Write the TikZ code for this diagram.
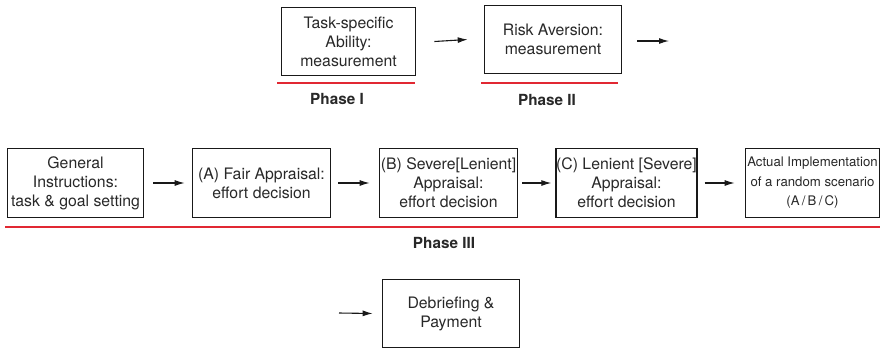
\documentclass[tikz,border=0pt]{standalone}
\usepackage{fontspec}
\setmainfont{TeX Gyre Heros}
\usetikzlibrary{arrows.meta}
\definecolor{txt}{RGB}{40,40,40}
\definecolor{redl}{RGB}{225,40,50}
\begin{document}
\begin{tikzpicture}[x=1pt,y=-1pt,
 box/.style={draw=black!90, line width=1.7pt, inner sep=0pt, align=center, text=txt, font=\fontsize{15.8}{19}\selectfont},
 arr/.style={-{Latex[length=10pt,width=6pt]}, line width=1.1pt, draw=black!90},
 phase/.style={font=\fontsize{15.3}{18}\selectfont\bfseries, text=txt, inner sep=0pt},
 redline/.style={draw=redl, line width=1.7pt}]
\useasboundingbox (0,0) rectangle (882,349);
% top row
\node[box, minimum width=134pt, minimum height=68pt] (b1) at (348.5,41.5) {Task-specific\\Ability:\\measurement};
\node[box, minimum width=137pt, minimum height=68pt] (b2) at (553,39.5) {Risk Aversion:\\measurement};
\coordinate (t2s) at (637,41);
\coordinate (t2e) at (669,41);
\draw[arr] ([xshift=18pt]b1.east) -- ([xshift=-16pt]b2.west);
\draw[arr] (t2s) -- (t2e);
\coordinate (r1a) at (277,83); \coordinate (r1b) at (415,83);
\coordinate (r2a) at (481,83); \coordinate (r2b) at (618,83);
\draw[redline] (r1a) -- (r1b);
\draw[redline] (r2a) -- (r2b);
\node[phase] (p1) at (337,99) {Phase I};
\node[phase] (p2) at (547,100) {Phase II};
% middle row
\node[box, minimum width=136pt, minimum height=69pt] (g) at (75.5,183) {General\\Instructions:\\task \& goal setting};
\node[box, minimum width=138pt, minimum height=69pt] (a) at (261.5,183) {(A) Fair Appraisal:\\effort decision};
\node[box, minimum width=138pt, minimum height=69pt] (b) at (448.5,183) {(B) Severe[Lenient]\\Appraisal:\\effort decision};
\node[box, minimum width=138pt, minimum height=69pt] (c) at (626.5,183) {(C) Lenient [Severe]\\Appraisal:\\effort decision};
\node[box, minimum width=134pt, minimum height=69pt, font=\fontsize{13.2}{19.5}\selectfont] (d) at (812.5,183) {Actual Implementation\\of a random scenario\\(A\,/\,B\,/\,C)};
\draw[arr] ([xshift=9pt]g.east) -- ([xshift=-7pt]a.west);
\draw[arr] ([xshift=7pt]a.east) -- ([xshift=-9pt]b.west);
\draw[arr] ([xshift=4pt]b.east) -- ([xshift=-4pt]c.west);
\draw[arr] ([xshift=7pt]c.east) -- ([xshift=-10pt]d.west);
\coordinate (r3a) at (5,227); \coordinate (r3b) at (880,227);
\draw[redline] (r3a) -- (r3b);
\node[phase] (p3) at (444,243) {Phase III};
% bottom
\node[box, minimum width=137pt, minimum height=68pt] (e) at (451,313.5) {Debriefing \&\\Payment};
\coordinate (bs) at (339,313);
\draw[arr] (bs) -- ([xshift=-9pt]e.west);
\end{tikzpicture}
\end{document}
